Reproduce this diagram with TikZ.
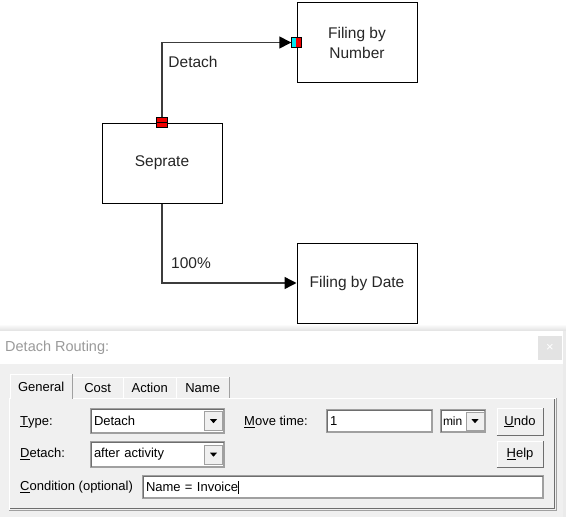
\documentclass[tikz,border=0pt]{standalone}
\usepackage{fontspec}
\setmainfont{Liberation Sans}
\usetikzlibrary{arrows.meta,calc}
\definecolor{dlgbg}{HTML}{F0F0F0}
\definecolor{linec}{HTML}{3C3C3C}
\definecolor{edgedark}{HTML}{6E6E6E}
\definecolor{edgemid}{HTML}{A0A0A0}
\definecolor{titlegray}{HTML}{9A9A9A}
\definecolor{closebg}{HTML}{E3E3E3}
\definecolor{portcyan}{HTML}{00E5F0}
\definecolor{portred}{HTML}{F00000}
\begin{document}
\begin{tikzpicture}[x=1pt,y=-1pt,
  proc/.style={draw=black,line width=1pt,fill=white,minimum width=120pt,minimum height=80pt,
    align=center,font=\fontsize{15.5}{20}\selectfont,text=black!85},
  conn/.style={draw=linec,line width=1.4pt,-{Triangle[length=12pt,width=12pt,color=black]}},
  clabel/.style={font=\fontsize{15.5}{20}\selectfont,text=black!85},
  portbox/.style={inner sep=0pt,minimum size=10pt},
  wtext/.style={font=\fontsize{13}{15}\selectfont,text=black,inner sep=0pt},
  field/.style={draw=edgemid,line width=1.2pt,fill=white,inner sep=3pt,align=left,
    font=\fontsize{13}{15}\selectfont},
  ddbtn/.style={draw=edgemid,line width=0.8pt,fill=dlgbg,inner sep=0pt,minimum width=18pt,minimum height=19pt},
  btn/.style={draw=edgemid,line width=1pt,fill=dlgbg,inner sep=0pt,minimum width=46pt,
    font=\fontsize{13}{15}\selectfont},
  tab/.style={fill=dlgbg,inner sep=0pt,font=\fontsize{13}{15}\selectfont,minimum height=21pt}
]
\useasboundingbox (0,0) rectangle (566,517);
\fill[white] (0,0) rectangle (566,517);

% ---------- dialog shadow (behind diagram) ----------
\shade[top color=white,bottom color=black!12] (0,324) rectangle (566,331);

% ---------- process diagram ----------
\node[proc] (num) at (357,42.5) {Filing by\\Number};
\node[proc] (sep) at (162,163) {Seprate};
\node[proc] (date) at (357,283) {Filing by Date};

\node[portbox] (sport) at (sep.north) {};
\node[portbox] (dport) at (num.west) {};

\draw[conn] (sport.center) |- (dport.west);
\draw[conn] (sep.south) |- (date.west);

% ports
\fill[portred] (sport.north west) rectangle (sport.south east);
\draw[black,line width=0.8pt] (sport.north west) rectangle (sport.south east);
\draw[black,line width=0.8pt] (sport.west) -- (sport.east);
\fill[portred] (dport.north west) rectangle (dport.south east);
\fill[portcyan] (dport.north west) rectangle ($(dport.south)+(-1,0)$);
\draw[black,line width=0.8pt] (dport.north west) rectangle (dport.south east);

\node[clabel] (lbldetach) at (193,62) {Detach};
\node[clabel] (lbl100) at (191,263) {100\%};

% ---------- dialog ----------
\fill[black!8] (563,331) rectangle (566,517);
\fill[white] (0,331) rectangle (563,364);
\fill[dlgbg] (0,364) rectangle (563,517);
\node[anchor=west,inner sep=0pt,text=titlegray,font=\fontsize{14.5}{16}\selectfont] (title) at (5,348) {Detach Routing:};
\node[fill=closebg,minimum size=24pt,inner sep=0pt,text=white,font=\fontsize{13}{14}\selectfont] (close) at (550,348) {×};

% tab panel
\fill[dlgbg] (9,398) rectangle (556,510);
\draw[white,line width=1pt] (9,510) -- (9,398) -- (556,398);
\draw[edgemid,line width=1pt] (9,510) -- (556,510) -- (556,398);
\draw[edgedark,line width=0.8pt] (10,508.5) -- (554.5,508.5) -- (554.5,399);

% tabs
\node[tab,minimum width=51pt,anchor=north west] (tcost) at (72,377) {Cost};
\node[tab,minimum width=53pt,anchor=north west] (taction) at (123,377) {Action};
\node[tab,minimum width=53pt,anchor=north west] (tname) at (176,377) {Name};
\foreach \t in {tcost,taction,tname}{
  \draw[white,line width=1pt] (\t.south west) -- (\t.north west) -- (\t.north east);
  \draw[edgemid,line width=1.2pt] (\t.north east) -- (\t.south east);
}
\node[tab,minimum width=62pt,minimum height=25pt,anchor=north west] (tgen) at (10,374) {General};
\draw[white,line width=1pt] (tgen.south west) -- (tgen.north west) -- (tgen.north east);
\draw[edgemid,line width=1.2pt] (tgen.north east) -- (tgen.south east);

% row 1
\node[wtext,anchor=west] (ltype) at (20,422) {\underline{T}ype:};
\node[field,minimum height=24pt,text width=127pt] (ftype) at (157.5,421) {Detach};
\draw[edgedark,line width=0.8pt] ([shift={(1,-1)}]ftype.south west) -- ([shift={(1,1)}]ftype.north west) -- ([shift={(-1,1)}]ftype.north east);
\node[ddbtn] (btype) at (213.5,421) {};
\fill[black] ($(btype.center)+(-3.5,-1.8)$) -- ++(7,0) -- ++(-3.5,4) -- cycle;

\node[wtext,anchor=west] (lmove) at (244,422) {\underline{M}ove time:};
\node[field,minimum height=22pt,text width=99pt] (fmove) at (379.5,421) {1};
\draw[edgedark,line width=0.8pt] ([shift={(1,-1)}]fmove.south west) -- ([shift={(1,1)}]fmove.north west) -- ([shift={(-1,1)}]fmove.north east);

\node[field,minimum height=22pt,text width=40pt,inner xsep=2pt,font=\fontsize{12}{14}\selectfont] (fmin) at (463,421) {min};
\draw[edgedark,line width=0.8pt] ([shift={(1,-1)}]fmin.south west) -- ([shift={(1,1)}]fmin.north west) -- ([shift={(-1,1)}]fmin.north east);
\node[ddbtn,minimum height=18pt] (bmin) at (475,421) {};
\fill[black] ($(bmin.center)+(-3.5,-1.8)$) -- ++(7,0) -- ++(-3.5,4) -- cycle;

\node[btn,minimum height=27pt] (bundo) at (520,421.5) {\underline{U}ndo};
\draw[white,line width=1pt] ([shift={(1,-1)}]bundo.south west) -- ([shift={(1,1)}]bundo.north west) -- ([shift={(-1,1)}]bundo.north east);
\draw[edgedark,line width=1pt] (bundo.south west) -- (bundo.south east) -- (bundo.north east);

% row 2
\node[wtext,anchor=west] (ldet) at (20,454) {\underline{D}etach:};
\node[field,minimum height=25pt,text width=127pt] (fdet) at (157.5,454.5) {after activity};
\draw[edgedark,line width=0.8pt] ([shift={(1,-1)}]fdet.south west) -- ([shift={(1,1)}]fdet.north west) -- ([shift={(-1,1)}]fdet.north east);
\node[ddbtn] (bdet) at (213.5,454.5) {};
\fill[black] ($(bdet.center)+(-3.5,-1.8)$) -- ++(7,0) -- ++(-3.5,4) -- cycle;

\node[btn,minimum height=26pt] (bhelp) at (520,454) {\underline{H}elp};
\draw[white,line width=1pt] ([shift={(1,-1)}]bhelp.south west) -- ([shift={(1,1)}]bhelp.north west) -- ([shift={(-1,1)}]bhelp.north east);
\draw[edgedark,line width=1pt] (bhelp.south west) -- (bhelp.south east) -- (bhelp.north east);

% row 3
\node[wtext,anchor=west] (lcond) at (20,487) {\underline{C}ondition (optional)};
\node[field,minimum height=22pt,text width=394pt] (fcond) at (343,487) {Name = Invoice\rule[-2.5pt]{0.9pt}{13pt}};
\draw[edgedark,line width=0.8pt] ([shift={(1,-1)}]fcond.south west) -- ([shift={(1,1)}]fcond.north west) -- ([shift={(-1,1)}]fcond.north east);
\end{tikzpicture}
\end{document}
